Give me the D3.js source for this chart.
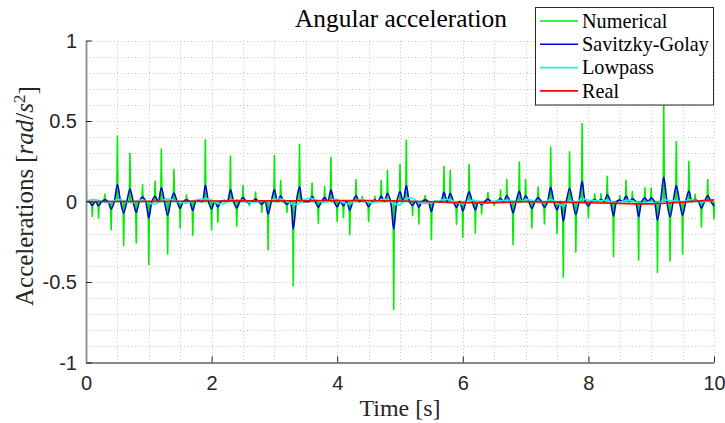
<!DOCTYPE html>
<html><head><meta charset="utf-8">
<script src="https://cdn.jsdelivr.net/npm/d3@7"></script>
<style>body{margin:0;background:#fff}</style>
</head><body>
<svg id="c" width="725" height="423"></svg>
<script>
// ---- data ----
const seriesNames = ["Numerical", "Savitzky-Golay", "Lowpass", "Real"];
const seriesColors = ["#00ee00", "#0000dd", "#22f0f0", "#ff0000"];
const xTicks = [0, 2, 4, 6, 8, 10];
const yTicks = [-1, -0.5, 0, 0.5, 1];
const titleText = "Angular acceleration";
const xLabelText = "Time [s]";

// Numerical derivative: spikes every 0.1 s (t = 0 ... 10)
const numericalStep = 0.1;
const numerical = [
 0.19, -0.093, -0.10, 0.044, -0.176, 0.407, -0.274, 0.30, -0.257, 0.104,
 -0.392, 0.127, 0.326, -0.326, 0.20, -0.164, 0.04, -0.21, 0.012, 0.384,
 -0.176, -0.129, 0.01, 0.282, -0.154, 0.098, -0.025, 0.058, -0.066, -0.30,
 0.286, 0.13, -0.068, -0.523, 0.355, 0.0, 0.114, -0.135, 0.091, 0.274,
 -0.124, -0.10, -0.207, 0.137, 0.031, -0.124, 0.033, 0.13, 0.193, -0.67,
 0.23, 0.38, -0.087, -0.139, 0.037, -0.234, 0.0, 0.218, 0.193, -0.141,
 -0.222, 0.23, -0.197, -0.077, 0.056, -0.025, 0.073, 0.137, -0.268, 0.245,
 0.137, -0.164, 0.089, -0.139, 0.338, -0.20, -0.471, 0.309, -0.313, 0.483,
 -0.10, 0.048, 0.048, 0.156, -0.342, 0.035, 0.131, 0.062, -0.363, 0.085,
 0.083, -0.44, 0.60, -0.37, 0.373, -0.326, 0.249, 0.044, -0.158, 0.137,
 -0.108];
const spikeHalfWidth = 0.01;

// Savitzky-Golay filtered, every 0.05 s
const sgStep = 0.05;
const savitzkyGolay = [
 0.000,0, -0.024,0, -0.026,0, 0.011,0, -0.046,0, 0.106,0, -0.071,0, 0.078,0, -0.067,0, 0.027,0,
 -0.102,0, 0.033,0, 0.085,0, -0.085,0, 0.052,0, -0.043,0, 0.010,0, -0.055,0, 0.003,0, 0.100,0,
 -0.046,0, -0.034,0, 0.003,0, 0.073,0, -0.040,0, 0.025,0, -0.007,0, 0.015,0, -0.017,0, -0.078,0,
 0.074,0, 0.034,0, -0.018,0, -0.170,0, 0.092,0, 0.000,0, 0.030,0, -0.035,0, 0.024,0, 0.071,0,
 -0.032,0, -0.026,0, -0.054,0, 0.036,0, 0.008,0, -0.032,0, 0.009,0, 0.034,0, 0.050,0, -0.170,0,
 0.060,0, 0.099,0, -0.023,0, -0.036,0, 0.010,0, -0.061,0, 0.000,0, 0.057,0, 0.050,0, -0.037,0,
 -0.058,0, 0.060,0, -0.051,0, -0.020,0, 0.015,0, -0.007,0, 0.019,0, 0.036,0, -0.070,0, 0.064,0,
 0.036,0, -0.043,0, 0.023,0, -0.036,0, 0.088,0, -0.052,0, -0.122,0, 0.080,0, -0.081,0, 0.126,0,
 -0.026,0, 0.012,0, 0.012,0, 0.041,0, -0.089,0, 0.009,0, 0.034,0, 0.016,0, -0.094,0, 0.022,0,
 0.022,0, -0.114,0, 0.150,0, -0.096,0, 0.097,0, -0.085,0, 0.065,0, 0.011,0, -0.041,0, 0.036,0,
 -0.028];

// Lowpass filtered, every 0.1 s
const lowpassStep = 0.1;
const lowpass = [
 0.000, 0.012, 0.008, -0.006, -0.004, 0.012, 0.006, -0.008, 0.002, 0.010, -0.010,
 -0.016, 0.004, 0.016, 0.008, -0.006, -0.010, 0.004, 0.014, 0.018, 0.008,
 -0.012, -0.014, 0.006, 0.010, 0.006, -0.004, -0.006, 0.004, 0.002, 0.014,
 0.016, 0.002, -0.018, -0.012, 0.016, 0.018, 0.004, -0.006, 0.010, 0.012,
 -0.008, -0.014, 0.006, 0.012, -0.004, -0.006, 0.010, 0.012, -0.012, -0.020,
 0.018, 0.020, -0.004, -0.012, -0.008, 0.004, 0.012, 0.010, -0.008, -0.016,
 0.004, 0.006, -0.012, -0.008, 0.002, 0.006, 0.008, 0.004, -0.006, 0.012,
 0.006, -0.008, -0.004, 0.014, -0.010, -0.026, 0.004, -0.008, 0.018, 0.008,
 0.006, 0.004, 0.008, -0.010, -0.006, 0.006, 0.004, -0.012, -0.008, 0.000,
 -0.016, 0.010, 0.004, 0.006, -0.004, 0.010, 0.008, -0.004, 0.004, 0.006];

// Real, every 0.5 s
const realStep = 0.5;
const real = [0, 0, 0.001, 0.002, 0.003, 0.004, 0.004, 0.005, 0.006, 0.006, 0.003,
 -0.002, -0.008, -0.007, -0.002, -0.004, -0.008, -0.012, -0.015, -0.004, 0.010];

// ---- drawing ----
const svg = d3.select("#c");
const L = 86, R = 714, T = 40.5, B = 362.5;
const x = d3.scaleLinear().domain([0, 10]).range([L, R]);
const y = d3.scaleLinear().domain([-1, 1]).range([B, T]);

svg.append("defs").append("clipPath").attr("id", "clip")
  .append("rect").attr("x", L).attr("y", T - 1).attr("width", R - L + 1).attr("height", B - T + 2);

// grid
const grid = svg.append("g").attr("stroke", "#c4c4c4").attr("stroke-width", 1).attr("stroke-dasharray", "1,2.5");
grid.selectAll(".gx").data(d3.range(0, 20.5, 1).map(i => i * 0.5)).join("line")
  .attr("x1", d => Math.round(x(d)) + 0.5).attr("x2", d => Math.round(x(d)) + 0.5)
  .attr("y1", T).attr("y2", B);
grid.selectAll(".gy").data(d3.range(0, 21, 1).map(i => -1 + i * 0.1)).join("line")
  .attr("y1", d => Math.round(y(d)) + 0.5).attr("y2", d => Math.round(y(d)) + 0.5)
  .attr("x1", L).attr("x2", R);

const plot = svg.append("g").attr("clip-path", "url(#clip)").attr("fill", "none")
  .attr("stroke-linejoin", "round");

// numerical spikes
const numPts = [];
numerical.forEach((v, i) => {
  const t = i * numericalStep;
  numPts.push([t - spikeHalfWidth, 0], [t, v], [t + spikeHalfWidth, 0]);
});
const lineXY = d3.line().x(d => x(d[0])).y(d => y(d[1]));
plot.append("path").attr("d", lineXY(numPts)).attr("stroke", seriesColors[0]).attr("stroke-width", 1.6);

const smooth = d3.line().x(d => x(d[0])).y(d => y(d[1])).curve(d3.curveCatmullRom.alpha(0.5));
plot.append("path").attr("d", smooth(savitzkyGolay.map((v, i) => [i * sgStep, v])))
  .attr("stroke", seriesColors[1]).attr("stroke-width", 1.6);
plot.append("path").attr("d", smooth(lowpass.map((v, i) => [i * lowpassStep, v])))
  .attr("stroke", seriesColors[2]).attr("stroke-width", 1.6);
plot.append("path").attr("d", d3.line().x(d => x(d[0])).y(d => y(d[1])).curve(d3.curveMonotoneX)(real.map((v, i) => [i * realStep, v])))
  .attr("stroke", seriesColors[3]).attr("stroke-width", 1.6);

// axes
const fmt = d => String(d);
const gx = svg.append("g").attr("transform", `translate(0,${B})`)
  .call(d3.axisBottom(x).tickValues(xTicks).tickFormat(fmt).tickSize(-6).tickSizeOuter(0));
const gy = svg.append("g").attr("transform", `translate(${L},0)`)
  .call(d3.axisLeft(y).tickValues(yTicks).tickFormat(fmt).tickSize(-6).tickSizeOuter(0));
[gx, gy].forEach(g => {
  g.select(".domain").attr("stroke", "#8a8a8a").attr("stroke-width", 1.8);
  g.selectAll(".tick line").attr("stroke", "#262626").attr("stroke-width", 1);
  g.selectAll("text").attr("font-family", "'Liberation Sans', Arial, sans-serif")
    .attr("font-size", 20).attr("fill", "#262626");
});
gx.selectAll("text").attr("y", 13).attr("dy", "0.71em");
gy.selectAll("text").attr("x", -9).attr("dy", "0.34em");

function fit(sel, target) {
  const w = sel.node().getComputedTextLength();
  const fs = parseFloat(sel.attr("font-size"));
  sel.attr("font-size", fs * target / w);
}
const serif = "'Liberation Serif', 'Times New Roman', serif";

const title = svg.append("text").attr("x", 401).attr("y", 27).attr("text-anchor", "middle")
  .attr("font-family", serif).attr("font-size", 20).attr("fill", "#000").text(titleText);
fit(title, 212);

const xl = svg.append("text").attr("x", 400).attr("y", 416).attr("text-anchor", "middle")
  .attr("font-family", serif).attr("font-size", 20).attr("fill", "#262626").text(xLabelText);
fit(xl, 81);

const yl = svg.append("text").attr("transform", "translate(33,196) rotate(-90)")
  .attr("text-anchor", "middle").attr("font-family", serif).attr("font-size", 20).attr("fill", "#262626");
yl.append("tspan").text("Accelerations [");
yl.append("tspan").attr("font-style", "italic").text("rad");
yl.append("tspan").text("/");
yl.append("tspan").attr("font-style", "italic").text("s");
yl.append("tspan").attr("dy", "-0.45em").attr("font-size", "0.7em").text("2");
yl.append("tspan").attr("dy", "0.45em").text("]");
fit(yl, 220);

// legend
const lg = svg.append("g");
lg.append("rect").attr("x", 535.5).attr("y", 7.5).attr("width", 178).attr("height", 97.5)
  .attr("fill", "#fff").attr("stroke", "#262626").attr("stroke-width", 1);
const legendY0 = 21, legendDY = 23.3;
const items = lg.selectAll(".it").data(seriesNames).join("g");
items.append("line").attr("x1", 540).attr("x2", 578)
  .attr("y1", (d, i) => legendY0 + i * legendDY).attr("y2", (d, i) => legendY0 + i * legendDY)
  .attr("stroke", (d, i) => seriesColors[i]).attr("stroke-width", 1.6);
const lt = items.append("text").attr("x", 582).attr("y", (d, i) => legendY0 + i * legendDY)
  .attr("dy", "0.33em").attr("font-family", serif).attr("font-size", 18).attr("fill", "#000").text(d => d);
const ref = lt.filter((d, i) => i === 1);
const w = ref.node().getComputedTextLength();
lt.attr("font-size", 18 * 127 / w);
</script>
</body></html>
